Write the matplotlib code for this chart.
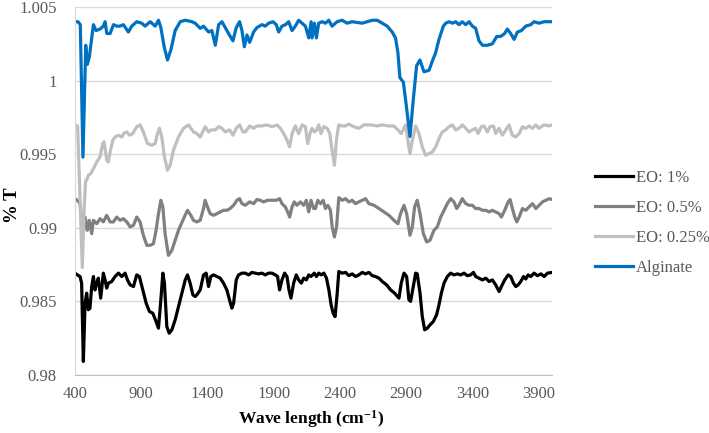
import matplotlib
matplotlib.use("Agg")
import matplotlib.pyplot as plt

plt.rcParams['font.family'] = ['Liberation Serif', 'DejaVu Serif']
plt.rcParams['mathtext.fontset'] = 'custom'
plt.rcParams['mathtext.rm'] = 'Liberation Serif:bold'
plt.rcParams['mathtext.bf'] = 'Liberation Serif:bold'
plt.rcParams['mathtext.default'] = 'bf'

series_names = ["EO: 1%", "EO: 0.5%", "EO: 0.25%", "Alginate"]
series_colors = ["#000000", "#808080", "#BFBFBF", "#0070C0"]

eo1_x = [400, 418, 438, 450, 463, 476, 488, 501, 513, 526, 539, 551, 564, 576, 594, 614, 627, 639, 652, 677,
         702, 728, 753, 778, 796, 816, 841, 866, 886, 912, 937, 962, 987, 1012, 1030, 1048, 1063, 1075, 1093,
         1111, 1131, 1156, 1181, 1206, 1232, 1249, 1269, 1290, 1307, 1319, 1345, 1370, 1390, 1408, 1425, 1445,
         1471, 1496, 1521, 1546, 1566, 1584, 1597, 1617, 1634, 1660, 1685, 1710, 1735, 1760, 1786, 1811, 1836,
         1861, 1886, 1912, 1929, 1944, 1962, 1982, 2000, 2015, 2030, 2050, 2070, 2088, 2108, 2126, 2146, 2164,
         2181, 2206, 2222, 2240, 2258, 2278, 2298, 2316, 2333, 2348, 2363, 2379, 2391, 2416, 2442, 2467, 2492,
         2517, 2542, 2568, 2593, 2618, 2643, 2668, 2694, 2719, 2752, 2782, 2812, 2845, 2862, 2883, 2903, 2920,
         2933, 2953, 2971, 2983, 3004, 3021, 3039, 3059, 3079, 3104, 3129, 3147, 3165, 3185, 3210, 3235, 3260,
         3286, 3311, 3336, 3361, 3386, 3407, 3424, 3449, 3475, 3500, 3525, 3550, 3575, 3601, 3618, 3643, 3669,
         3689, 3709, 3727, 3744, 3764, 3785, 3802, 3820, 3840, 3865, 3890, 3916, 3941, 3966, 4000]
eo1_y = [0.98692, 0.9868, 0.98669, 0.98624, 0.98092, 0.98488, 0.98556, 0.98443, 0.98454, 0.98601, 0.98669,
         0.98578, 0.98624, 0.98658, 0.98522, 0.98692, 0.98646, 0.9859, 0.98624, 0.98635, 0.98669, 0.98692,
         0.98669, 0.98692, 0.98646, 0.98612, 0.98601, 0.9868, 0.98669, 0.98578, 0.98488, 0.98431, 0.9842,
         0.98363, 0.98318, 0.98511, 0.98692, 0.98624, 0.98329, 0.98284, 0.98307, 0.98375, 0.98465, 0.98556,
         0.98646, 0.9868, 0.98624, 0.98544, 0.98533, 0.98544, 0.98578, 0.9868, 0.98692, 0.98601, 0.98669,
         0.9868, 0.98669, 0.98658, 0.98624, 0.98578, 0.98511, 0.98454, 0.98488, 0.98646, 0.9868, 0.98692,
         0.98692, 0.9868, 0.98697, 0.98692, 0.98687, 0.98692, 0.9868, 0.98692, 0.98692, 0.9868, 0.98669,
         0.98578, 0.98646, 0.98692, 0.98669, 0.98578, 0.98522, 0.98624, 0.9868, 0.98646, 0.98624, 0.98658,
         0.98646, 0.9868, 0.98669, 0.98692, 0.98669, 0.98692, 0.9868, 0.98692, 0.98658, 0.98578, 0.98476,
         0.9842, 0.98397, 0.98556, 0.98703, 0.98692, 0.98697, 0.98675, 0.98687, 0.98669, 0.9868, 0.98697,
         0.98687, 0.98697, 0.98675, 0.98669, 0.98658, 0.98635, 0.98612, 0.98578, 0.98556, 0.98522, 0.98624,
         0.98692, 0.98669, 0.98511, 0.985, 0.98601, 0.98692, 0.98687, 0.98556, 0.98397, 0.98307, 0.98318,
         0.9834, 0.98363, 0.98409, 0.98476, 0.98556, 0.98624, 0.98669, 0.98692, 0.9868, 0.98687, 0.9868,
         0.98692, 0.98675, 0.9868, 0.98697, 0.98669, 0.98658, 0.98646, 0.98658, 0.98635, 0.98646, 0.98612,
         0.98567, 0.98601, 0.98646, 0.9868, 0.98669, 0.98624, 0.98601, 0.98612, 0.98635, 0.98669, 0.98652,
         0.9868, 0.98669, 0.98692, 0.98675, 0.98687, 0.98669, 0.98692, 0.98697]

eo05_x = [400, 417, 438, 462, 476, 493, 508, 526, 539, 564, 589, 614, 639, 665, 690, 715, 740, 765, 791, 816,
          841, 866, 891, 916, 942, 967, 992, 1012, 1030, 1048, 1063, 1080, 1105, 1131, 1156, 1181, 1219, 1249,
          1274, 1294, 1319, 1345, 1370, 1382, 1400, 1420, 1445, 1471, 1496, 1521, 1546, 1571, 1597, 1622, 1642,
          1660, 1685, 1718, 1748, 1773, 1798, 1823, 1854, 1886, 1919, 1944, 1962, 1987, 2005, 2020, 2038, 2055,
          2075, 2101, 2126, 2146, 2164, 2181, 2201, 2215, 2232, 2253, 2273, 2290, 2308, 2328, 2341, 2358, 2374,
          2391, 2416, 2442, 2467, 2492, 2517, 2542, 2568, 2593, 2618, 2656, 2694, 2731, 2769, 2807, 2837, 2857,
          2883, 2903, 2928, 2946, 2963, 2983, 3004, 3029, 3054, 3079, 3109, 3134, 3160, 3185, 3210, 3235, 3260,
          3281, 3298, 3323, 3349, 3374, 3399, 3424, 3449, 3475, 3500, 3525, 3550, 3575, 3601, 3618, 3643, 3669,
          3684, 3701, 3719, 3734, 3752, 3777, 3802, 3827, 3853, 3878, 3903, 3928, 3953, 3979, 4000]
eo05_y = [0.99198, 0.99187, 0.99164, 0.9896, 0.99073, 0.98983, 0.99051, 0.9896, 0.99051, 0.99028, 0.99062,
          0.9904, 0.99085, 0.9904, 0.9904, 0.99073, 0.99051, 0.99062, 0.9904, 0.99006, 0.99017, 0.99073, 0.9904,
          0.98949, 0.98881, 0.98881, 0.98892, 0.98983, 0.99096, 0.99187, 0.99142, 0.9896, 0.98813, 0.98847,
          0.98915, 0.98983, 0.99062, 0.99119, 0.99085, 0.99051, 0.9904, 0.99051, 0.99131, 0.99187, 0.99142,
          0.99096, 0.99085, 0.99096, 0.99108, 0.99119, 0.99119, 0.99131, 0.99153, 0.99187, 0.99198, 0.99164,
          0.99153, 0.99176, 0.99164, 0.99192, 0.99187, 0.99176, 0.99187, 0.99187, 0.99187, 0.99198, 0.99164,
          0.99142, 0.99108, 0.99073, 0.99142, 0.99176, 0.99153, 0.99176, 0.99153, 0.99187, 0.99108, 0.99187,
          0.99131, 0.99131, 0.99187, 0.99164, 0.99187, 0.99131, 0.99153, 0.99119, 0.99006, 0.98938, 0.99006,
          0.99205, 0.99187, 0.99198, 0.99176, 0.99187, 0.99164, 0.99176, 0.99187, 0.99198, 0.99164, 0.99153,
          0.99131, 0.99108, 0.99085, 0.99051, 0.99028, 0.99096, 0.99153, 0.99096, 0.98949, 0.99006, 0.99142,
          0.99187, 0.99096, 0.98961, 0.98904, 0.98915, 0.98983, 0.99006, 0.99073, 0.99119, 0.99164, 0.99198,
          0.99176, 0.99131, 0.99153, 0.99198, 0.99164, 0.99153, 0.99153, 0.99131, 0.99131, 0.99119, 0.99119,
          0.99108, 0.99119, 0.99108, 0.99096, 0.99073, 0.99119, 0.99176, 0.99192, 0.99131, 0.99073, 0.9904,
          0.99073, 0.99131, 0.99119, 0.99142, 0.99164, 0.99131, 0.99153, 0.99176, 0.99187, 0.99198, 0.99192]

eo025_x = [400, 420, 455, 470, 480, 488, 501, 519, 539, 564, 589, 609, 619, 640, 652, 665, 685, 703, 728, 753,
           771, 791, 811, 836, 866, 891, 916, 947, 980, 1005, 1022, 1037, 1055, 1075, 1098, 1118, 1143, 1181,
           1219, 1257, 1295, 1320, 1345, 1383, 1408, 1426, 1459, 1484, 1509, 1534, 1567, 1592, 1617, 1642, 1668,
           1685, 1718, 1748, 1773, 1811, 1849, 1887, 1925, 1950, 1975, 2000, 2020, 2038, 2063, 2088, 2114, 2139,
           2156, 2177, 2189, 2207, 2224, 2239, 2257, 2277, 2303, 2323, 2340, 2358, 2373, 2390, 2416, 2441, 2466,
           2504, 2542, 2580, 2630, 2681, 2718, 2768, 2806, 2837, 2862, 2895, 2912, 2928, 2946, 2971, 2996, 3021,
           3046, 3072, 3097, 3122, 3147, 3172, 3198, 3223, 3248, 3273, 3298, 3323, 3349, 3374, 3399, 3424, 3442,
           3467, 3487, 3512, 3532, 3558, 3575, 3600, 3626, 3651, 3676, 3701, 3726, 3752, 3777, 3802, 3827, 3852,
           3878, 3902, 3940, 3978, 4000]
eo025_y = [0.997, 0.9969, 0.9873, 0.9915, 0.9932, 0.99323, 0.99357, 0.99368, 0.99402, 0.99447, 0.99481,
           0.99572, 0.99584, 0.99459, 0.99447, 0.99515, 0.99595, 0.99617, 0.99629, 0.99617, 0.99645, 0.99651,
           0.99629, 0.9964, 0.99687, 0.99699, 0.99651, 0.99572, 0.99561, 0.99572, 0.9964, 0.99676, 0.99617,
           0.99481, 0.99391, 0.99425, 0.99527, 0.99617, 0.99676, 0.99699, 0.99651, 0.9964, 0.99617, 0.99687,
           0.99651, 0.99665, 0.99665, 0.99687, 0.99676, 0.99651, 0.99665, 0.99629, 0.99676, 0.99699, 0.99651,
           0.99651, 0.99692, 0.99676, 0.99692, 0.99692, 0.99699, 0.99687, 0.99699, 0.99676, 0.9964, 0.99595,
           0.9955, 0.9964, 0.99692, 0.9964, 0.99699, 0.99687, 0.99572, 0.99651, 0.99676, 0.99651, 0.99665,
           0.99699, 0.9964, 0.99687, 0.99676, 0.9964, 0.99527, 0.99425, 0.99595, 0.99699, 0.99692, 0.99692,
           0.99704, 0.99687, 0.99676, 0.99699, 0.99699, 0.99692, 0.99699, 0.99692, 0.99692, 0.99665, 0.9964,
           0.99699, 0.99595, 0.99504, 0.99595, 0.99692, 0.9964, 0.9955, 0.99493, 0.99504, 0.99515, 0.9955,
           0.99606, 0.99651, 0.99665, 0.99687, 0.99699, 0.99665, 0.99676, 0.99699, 0.99676, 0.99651, 0.99665,
           0.99676, 0.9964, 0.99687, 0.99692, 0.99651, 0.99687, 0.99692, 0.9964, 0.99676, 0.99629, 0.99665,
           0.99699, 0.99629, 0.99617, 0.9964, 0.99687, 0.99676, 0.99692, 0.99676, 0.99699, 0.99676, 0.99699,
           0.99692, 0.997]

alg_x = [400, 423, 440, 460, 481, 493, 508, 539, 559, 589, 614, 627, 640, 665, 690, 715, 740, 765, 803, 828,
         866, 904, 929, 967, 1005, 1030, 1048, 1073, 1098, 1124, 1156, 1194, 1232, 1282, 1307, 1345, 1370, 1408,
         1433, 1459, 1484, 1509, 1534, 1559, 1592, 1617, 1642, 1660, 1678, 1698, 1718, 1748, 1773, 1811, 1836,
         1861, 1894, 1919, 1937, 1962, 1988, 2013, 2038, 2063, 2088, 2114, 2139, 2164, 2182, 2189, 2207, 2222,
         2239, 2265, 2290, 2315, 2340, 2378, 2416, 2454, 2491, 2529, 2567, 2605, 2643, 2681, 2718, 2756, 2794,
         2819, 2837, 2852, 2878, 2895, 2928, 2953, 2978, 3003, 3034, 3072, 3096, 3122, 3147, 3180, 3198, 3223,
         3248, 3273, 3298, 3323, 3349, 3374, 3399, 3424, 3449, 3475, 3512, 3550, 3583, 3613, 3643, 3663, 3688,
         3714, 3739, 3769, 3802, 3839, 3865, 3902, 3940, 4000]
alg_y = [1.0040, 1.0040, 1.0038, 0.9948, 1.0024, 1.0011, 1.0016, 1.0038, 1.0034, 1.0035, 1.0037, 1.0040,
         1.0032, 1.0032, 1.0038, 1.0037, 1.0037, 1.0038, 1.0033, 1.0037, 1.0040, 1.0039, 1.0037, 1.0040, 1.0037,
         1.0041, 1.0036, 1.0023, 1.0014, 1.0021, 1.0034, 1.0040, 1.0041, 1.0040, 1.0039, 1.00355, 1.0037,
         1.0033, 1.0034, 1.0024, 1.0038, 1.0040, 1.0036, 1.0032, 1.0027, 1.0036, 1.0040, 1.0034, 1.0023,
         1.0031, 1.0026, 1.0033, 1.0036, 1.0038, 1.0037, 1.0039, 1.0040, 1.0038, 1.0033, 1.0037, 1.0038,
         1.0040, 1.0034, 1.0037, 1.0041, 1.0039, 1.0037, 1.0029, 1.0040, 1.0029, 1.0039, 1.0029, 1.0039,
         1.0040, 1.0039, 1.0041, 1.0037, 1.0040, 1.0041, 1.0039, 1.0040, 1.00395, 1.0039, 1.0040, 1.0041,
         1.0041, 1.0039, 1.0037, 1.0033, 1.0029, 1.0019, 1.0002, 0.9999, 0.9987, 0.9962, 0.9987, 1.0010,
         1.0014, 1.0006, 1.0007, 1.0013, 1.0019, 1.0028, 1.0037, 1.0039, 1.0040, 1.0039, 1.0040, 1.0038,
         1.0040, 1.0038, 1.0040, 1.0037, 1.00355, 1.0027, 1.0024, 1.0024, 1.0025, 1.0030, 1.0030, 1.0032,
         1.0035, 1.0032, 1.0028, 1.0033, 1.0034, 1.0037, 1.0038, 1.0040, 1.0039, 1.0040, 1.0040]

x_ticks = [400, 900, 1400, 1900, 2400, 2900, 3400, 3900]
y_ticks = [0.98, 0.985, 0.99, 0.995, 1.0, 1.005]
y_tick_labels = ["0.98", "0.985", "0.99", "0.995", "1", "1.005"]

fig = plt.figure(figsize=(7.09, 4.33), dpi=100)
ax = fig.add_axes([75/709, 1-375/433, (552-75)/709, (375-7)/433])

data = [(eo1_x, eo1_y), (eo05_x, eo05_y), (eo025_x, eo025_y), (alg_x, alg_y)]
for (xs, ys), name, c in zip(data, series_names, series_colors):
    ax.plot(xs, ys, color=c, lw=2.3, label=name, solid_joinstyle='round')

ax.set_xlim(400, 4000)
ax.set_ylim(0.98, 1.005)
ax.set_xticks(x_ticks)
ax.set_yticks(y_ticks)
ax.set_yticklabels(y_tick_labels)
ax.tick_params(axis='both', length=0, labelsize=12, labelcolor='#595959')
ax.tick_params(axis='y', pad=13)
ax.tick_params(axis='x', pad=8)
ax.grid(axis='y', color='#D9D9D9', lw=1)
ax.set_axisbelow(True)
for s in ['top', 'right']:
    ax.spines[s].set_visible(False)
ax.spines['left'].set_color('#D9D9D9')
ax.spines['bottom'].set_color('#BFBFBF')

ax.set_xlabel("Wave length (cm$^{-1}$)", fontsize=12.5, fontweight='bold')
ax.xaxis.label.set_verticalalignment('center')
ax.xaxis.set_label_coords((311-75)/477, -(419-375)/368)
ax.set_ylabel("% T", fontsize=13.5, fontweight='bold')
ax.yaxis.label.set_verticalalignment('center')
ax.yaxis.set_label_coords(-(75-12)/477, (375-205)/368)

fig.legend(loc='center left', bbox_to_anchor=(580/709, 1-223/433), frameon=False,
           fontsize=12, labelcolor='#595959', handlelength=2.25, handletextpad=0.2,
           labelspacing=0.85)

fig.savefig("out.png", dpi=100)
